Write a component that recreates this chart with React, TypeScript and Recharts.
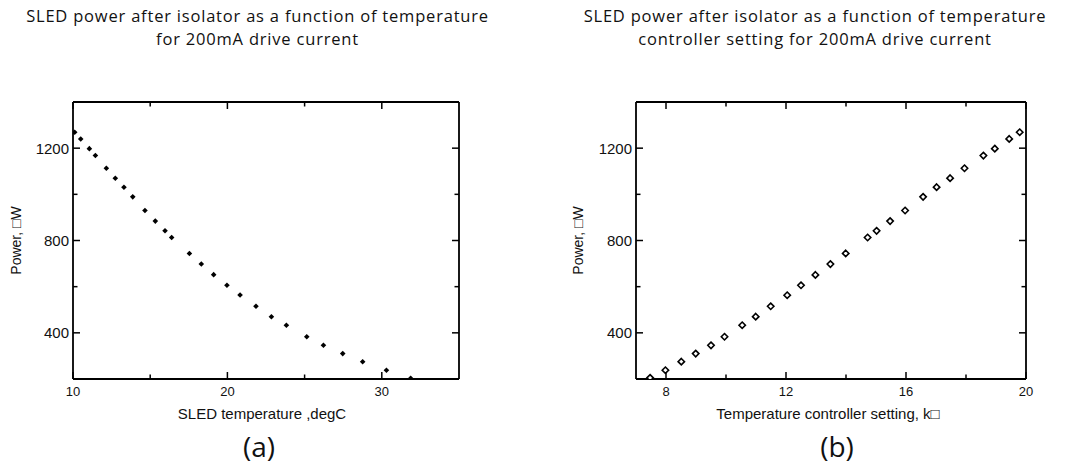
import { ScatterChart, Scatter, XAxis, YAxis } from "recharts";

// (a) SLED temperature (degC) vs power after isolator
const sledTempC = [
  10.11, 10.5, 11.06, 11.45, 12.16, 12.74, 13.3, 13.87, 14.66, 15.33, 15.96,
  16.39, 17.54, 18.31, 19.11, 19.97, 20.82, 21.85, 22.85, 23.82, 25.14, 26.22,
  27.47, 28.76, 30.3, 31.87,
];
const powerVsTemp = [
  1269, 1240, 1198, 1168, 1113, 1070, 1031, 989, 930, 884, 842, 813, 744, 698,
  652, 606, 564, 515, 470, 433, 383, 346, 310, 275, 238, 203,
];

// (b) temperature controller setting (kOhm) vs power after isolator
const ctrlSettingK = [
  7.47, 7.98, 8.51, 8.99, 9.5, 9.95, 10.54, 10.99, 11.49, 12.04, 12.5, 12.98,
  13.48, 13.99, 14.72, 15.02, 15.47, 15.97, 16.57, 17.02, 17.47, 17.95, 18.58,
  18.96, 19.44, 19.79,
];
const powerVsSetting = [
  205, 238, 275, 310, 346, 383, 433, 470, 515, 563, 606, 651, 698, 744, 813,
  842, 884, 930, 989, 1031, 1070, 1113, 1168, 1198, 1240, 1269,
];

const tempTicks = [10, 15, 20, 25, 30];
const tempLabels = [10, 20, 30];
const settingTicks = [8, 10, 12, 14, 16, 18, 20];
const settingLabels = [8, 12, 16, 20];
const powerTicks = [400, 600, 800, 1000, 1200];
const powerLabels = [400, 800, 1200];

const dataA = sledTempC.map((x, i) => ({ x, y: powerVsTemp[i] }));
const dataB = ctrlSettingK.map((x, i) => ({ x, y: powerVsSetting[i] }));

const AX = "Liberation Sans, Arial, sans-serif";
const TITLE = "'Open Sans', 'Noto Sans', sans-serif";
const axisStroke = { stroke: "#000", strokeWidth: 1.8 };

function FrameTick(props: any) {
  const { x, y, payload, side, majors, gap = 0, withText } = props;
  const major = majors.includes(payload.value);
  const len = major ? 7 : 4.5;
  const line = { stroke: "#000", strokeWidth: 1.5 };
  if (side === "bottom") {
    const ay = y - gap;
    return (
      <g>
        <line x1={x} x2={x} y1={ay} y2={ay - len} {...line} />
        {withText && major && (
          <text x={x} y={y} dy="0.71em" textAnchor="middle" fontFamily={AX} fontSize={13} fill="#111">
            {payload.value}
          </text>
        )}
      </g>
    );
  }
  if (side === "top") {
    return <line x1={x} x2={x} y1={y} y2={y + len} {...line} />;
  }
  if (side === "left") {
    const ax = x + gap;
    return (
      <g>
        <line x1={ax} x2={ax + len} y1={y} y2={y} {...line} />
        {withText && major && (
          <text x={x} y={y} dy="0.36em" textAnchor="end" fontFamily={AX} fontSize={15} fill="#111">
            {payload.value}
          </text>
        )}
      </g>
    );
  }
  return <line x1={x} x2={x - len} y1={y} y2={y} {...line} />;
}

function FilledDiamond(props: any) {
  const { cx, cy } = props;
  const r = 2.8;
  return <path d={`M${cx},${cy - r}L${cx + r},${cy}L${cx},${cy + r}L${cx - r},${cy}Z`} fill="#000" />;
}

function HollowDiamond(props: any) {
  const { cx, cy } = props;
  const r = 3.2;
  return (
    <path
      d={`M${cx},${cy - r}L${cx + r},${cy}L${cx},${cy + r}L${cx - r},${cy}Z`}
      fill="#fff"
      stroke="#000"
      strokeWidth={1.6}
    />
  );
}

// keeps the top/right frame axes tied to a series without drawing anything
const NoMark = () => <g />;

interface PanelProps {
  data: { x: number; y: number }[];
  xDomain: [number, number];
  xTicks: number[];
  xMajors: number[];
  xTitle: string;
  width: number;
  margin: { top: number; right: number; bottom: number; left: number };
  yAxisWidth: number;
  titleDx: number;
  shape: (p: any) => any;
}

function Panel({ data, xDomain, xTicks, xMajors, xTitle, width, margin, yAxisWidth, titleDx, shape }: PanelProps) {
  const yDomain: [number, number] = [200, 1400];
  return (
    <ScatterChart width={width} height={471} margin={margin}>
      <XAxis
        xAxisId="b"
        type="number"
        dataKey="x"
        domain={xDomain}
        allowDataOverflow
        ticks={xTicks}
        interval={0}
        height={45}
        tickSize={0}
        tickMargin={8}
        tickLine={false}
        axisLine={axisStroke}
        tick={(p: any) => <FrameTick {...p} side="bottom" majors={xMajors} gap={8} withText />}
        label={{
          value: xTitle,
          position: "insideBottom",
          offset: 5,
          dx: titleDx,
          style: { fontFamily: AX, fontSize: 15, fill: "#111" },
        }}
      />
      <XAxis
        xAxisId="t"
        orientation="top"
        type="number"
        dataKey="x"
        domain={xDomain}
        allowDataOverflow
        ticks={xTicks}
        interval={0}
        height={1}
        tickSize={0}
        tickMargin={0}
        tickLine={false}
        axisLine={axisStroke}
        tick={(p: any) => <FrameTick {...p} side="top" majors={xMajors} />}
      />
      <YAxis
        yAxisId="l"
        type="number"
        dataKey="y"
        domain={yDomain}
        allowDataOverflow
        ticks={powerTicks}
        interval={0}
        width={yAxisWidth}
        tickSize={0}
        tickMargin={4}
        tickLine={false}
        axisLine={axisStroke}
        tick={(p: any) => <FrameTick {...p} side="left" majors={powerLabels} gap={4} withText />}
        label={{
          value: "Power, \u25A1W",
          angle: -90,
          position: "insideLeft",
          offset: 1,
          style: { fontFamily: AX, fontSize: 14, fill: "#111", textAnchor: "middle" },
        }}
      />
      <YAxis
        yAxisId="r"
        orientation="right"
        type="number"
        dataKey="y"
        domain={yDomain}
        allowDataOverflow
        ticks={powerTicks}
        interval={0}
        width={1}
        tickSize={0}
        tickMargin={0}
        tickLine={false}
        axisLine={axisStroke}
        tick={(p: any) => <FrameTick {...p} side="right" majors={powerLabels} />}
      />
      <Scatter xAxisId="t" yAxisId="r" data={data} shape={NoMark} isAnimationActive={false} />
      <Scatter xAxisId="b" yAxisId="l" data={data} shape={shape} isAnimationActive={false} />
    </ScatterChart>
  );
}

const titleStyle = {
  position: "absolute" as const,
  top: 5,
  fontFamily: TITLE,
  fontSize: 16.5,
  lineHeight: "22.5px",
  letterSpacing: "0.8px",
  color: "#111",
  textAlign: "center" as const,
  whiteSpace: "nowrap" as const,
};

const tagStyle = {
  position: "absolute" as const,
  top: 432,
  fontFamily: TITLE,
  fontSize: 28,
  lineHeight: "28px",
  color: "#111",
  textAlign: "center" as const,
  width: 100,
};

export default function App() {
  return (
    <div style={{ position: "fixed", left: 0, top: 0, width: 1083, height: 471, background: "#fff" }}>
      <div style={{ ...titleStyle, left: 0, width: 515 }}>
        SLED power after isolator as a function of temperature
        <br />
        for 200mA drive current
      </div>
      <div style={{ ...titleStyle, left: 580, width: 470 }}>
        SLED power after isolator as a function of temperature
        <br />
        controller setting for 200mA drive current
      </div>
      <div style={{ position: "absolute", left: 0, top: 0 }}>
        <Panel
          data={dataA}
          xDomain={[10, 35]}
          xTicks={tempTicks}
          xMajors={tempLabels}
          xTitle="SLED temperature ,degC"
          width={541}
          margin={{ top: 101, right: 81, bottom: 47, left: 15 }}
          yAxisWidth={58}
          titleDx={-4}
          shape={FilledDiamond}
        />
      </div>
      <div style={{ position: "absolute", left: 541, top: 0 }}>
        <Panel
          data={dataB}
          xDomain={[7, 20]}
          xTicks={settingTicks}
          xMajors={settingLabels}
          xTitle={"Temperature controller setting, k\u25A1"}
          width={542}
          margin={{ top: 101, right: 56, bottom: 47, left: 36 }}
          yAxisWidth={59}
          titleDx={-3}
          shape={HollowDiamond}
        />
      </div>
      <div style={{ ...tagStyle, left: 209 }}>(a)</div>
      <div style={{ ...tagStyle, left: 787 }}>(b)</div>
    </div>
  );
}
